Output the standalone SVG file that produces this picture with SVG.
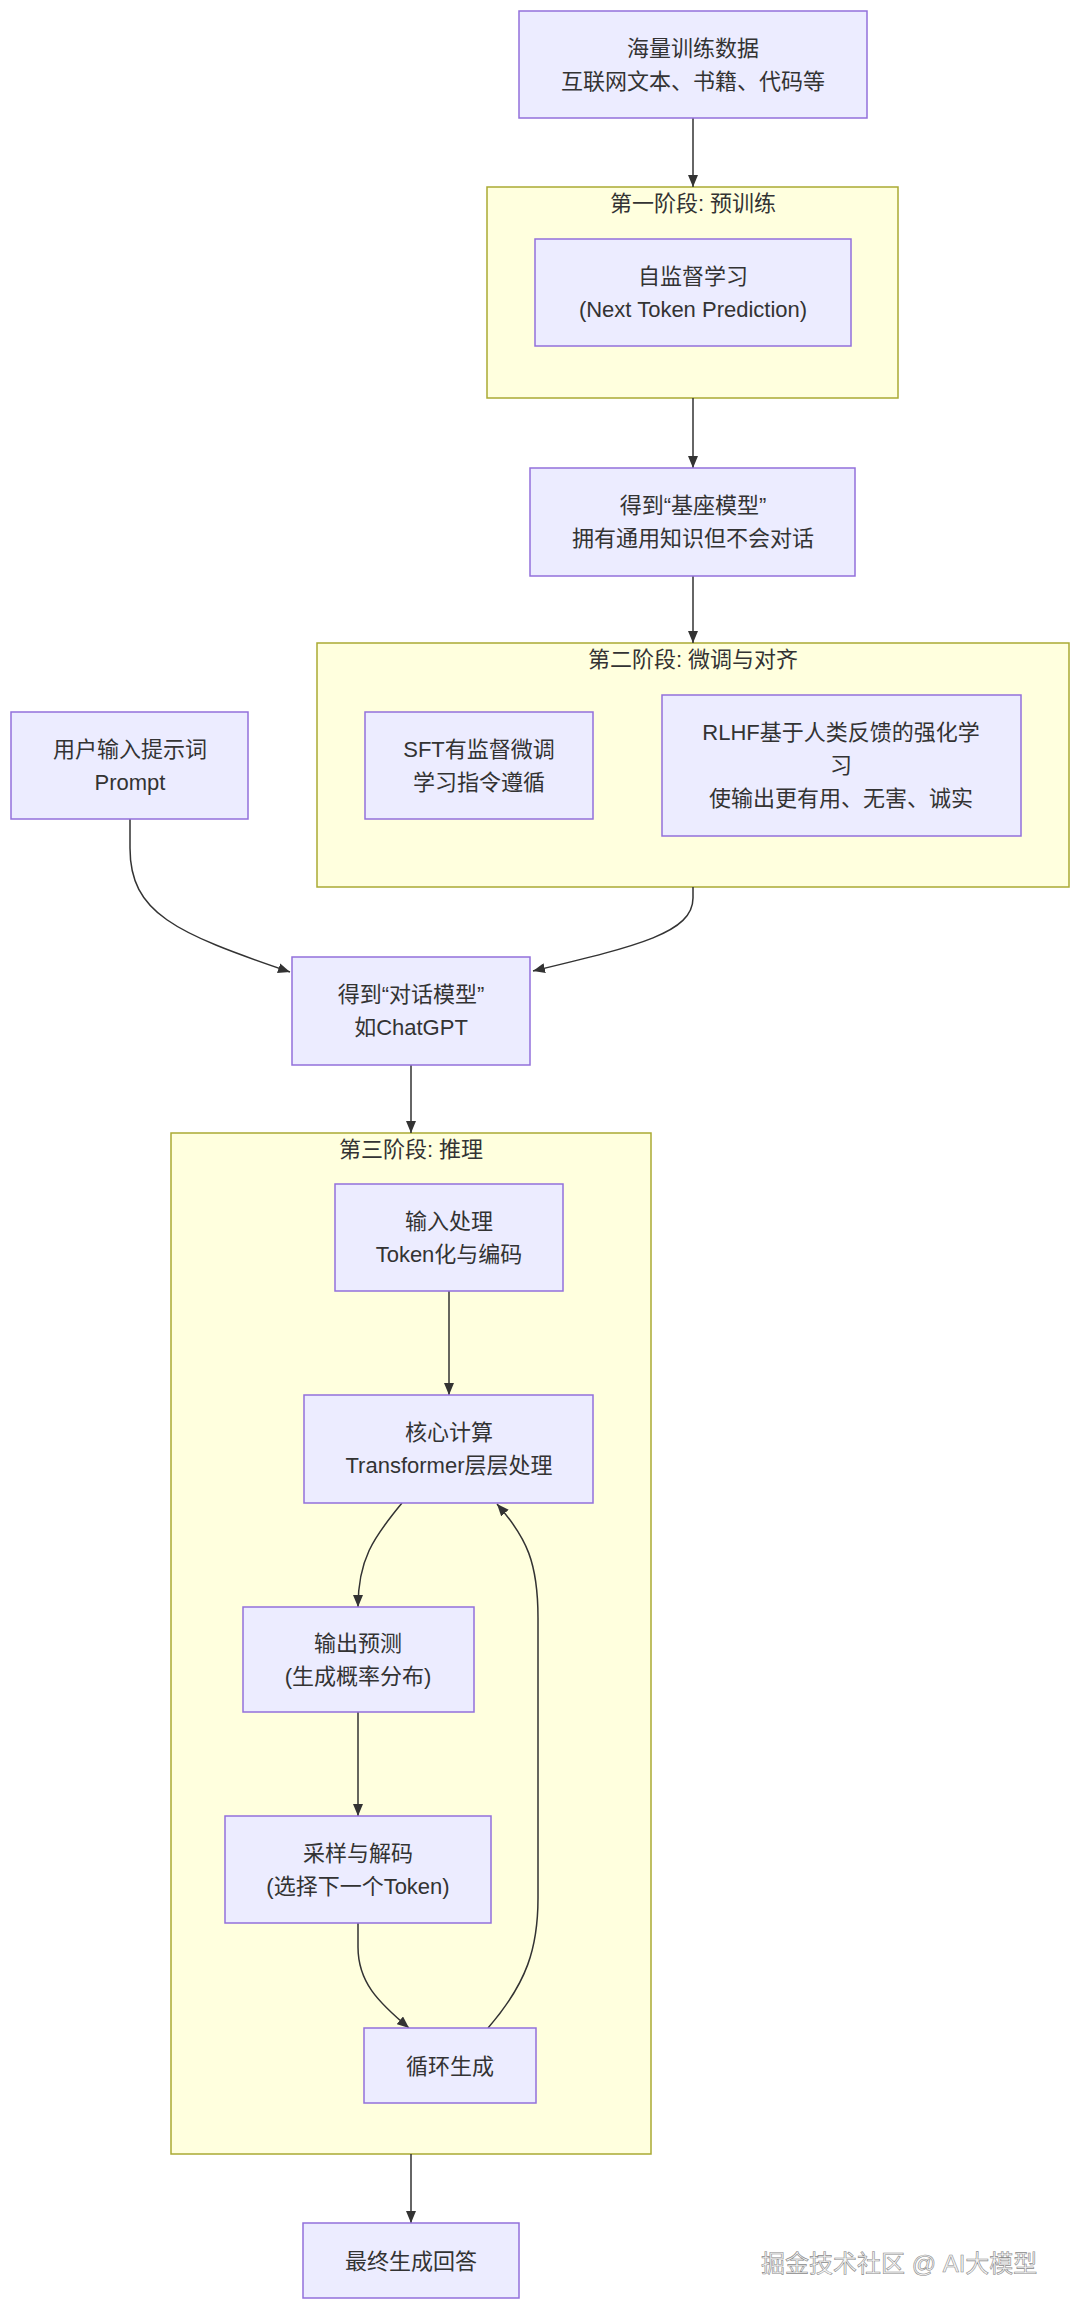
<svg xmlns="http://www.w3.org/2000/svg" width="1080" height="2309" viewBox="0 0 1080 2309">
<style>
.node rect{fill:#ECECFF;stroke:#9370DB;stroke-width:1.5}
.cluster rect{fill:#FFFFDE;stroke:#AAAA33;stroke-width:1.5}
text{font-family:"Liberation Sans","Noto Sans CJK SC",sans-serif;font-size:22px;fill:#333333;text-anchor:middle;dominant-baseline:central}
.edges path{fill:none;stroke:#333333;stroke-width:1.5}
.wm{font-size:24px;fill:#f6f6f6;stroke:#8a8a8a;stroke-width:0.6;text-anchor:start}
</style>
<defs>
<marker id="arrow" viewBox="0 0 12 10" refX="12" refY="5" markerWidth="12" markerHeight="10" markerUnits="userSpaceOnUse" orient="auto">
<path d="M0,0 L12,5 L0,10 z" fill="#333333"/>
</marker>
</defs>
<rect width="1080" height="2309" fill="#ffffff"/>

<g id="cluster-pretrain" class="cluster">
<rect x="487" y="187" width="411" height="211"/>
<text x="693" y="203">第一阶段: 预训练</text>
</g>
<g id="cluster-finetune" class="cluster">
<rect x="317" y="643" width="752" height="244"/>
<text x="693" y="659">第二阶段: 微调与对齐</text>
</g>
<g id="cluster-inference" class="cluster">
<rect x="171" y="1133" width="480" height="1021"/>
<text x="411" y="1149">第三阶段: 推理</text>
</g>

<g class="edges">
<path d="M693,118 L693,187" marker-end="url(#arrow)"/>
<path d="M693,398 L693,468" marker-end="url(#arrow)"/>
<path d="M693,576 L693,643" marker-end="url(#arrow)"/>
<path d="M130,819 L130,848 C130,913 175,933 290,972" marker-end="url(#arrow)"/>
<path d="M693,887 L693,898 C693,933 637,946 533,971" marker-end="url(#arrow)"/>
<path d="M411,1065 L411,1133" marker-end="url(#arrow)"/>
<path d="M449,1291 L449,1395" marker-end="url(#arrow)"/>
<path d="M402,1503 C373,1538 358,1560 358,1607" marker-end="url(#arrow)"/>
<path d="M358,1712 L358,1816" marker-end="url(#arrow)"/>
<path d="M358,1923 L358,1947 C358,1982 378,2002 409,2028" marker-end="url(#arrow)"/>
<path d="M488,2028 C527,1983 538,1948 538,1898 L538,1618 C538,1563 527,1538 497,1504" marker-end="url(#arrow)"/>
<path d="M411,2154 L411,2223" marker-end="url(#arrow)"/>
</g>

<g id="data" class="node">
<rect x="519" y="11" width="348" height="107"/>
<text x="693" y="48">海量训练数据</text>
<text x="693" y="81">互联网文本、书籍、代码等</text>
</g>
<g id="selfsup" class="node">
<rect x="535" y="239" width="316" height="107"/>
<text x="693" y="276">自监督学习</text>
<text x="693" y="309">(Next Token Prediction)</text>
</g>
<g id="base" class="node">
<rect x="530" y="468" width="325" height="108"/>
<text x="693" y="505">得到“基座模型”</text>
<text x="693" y="538">拥有通用知识但不会对话</text>
</g>
<g id="prompt" class="node">
<rect x="11" y="712" width="237" height="107"/>
<text x="130" y="749">用户输入提示词</text>
<text x="130" y="782">Prompt</text>
</g>
<g id="sft" class="node">
<rect x="365" y="712" width="228" height="107"/>
<text x="479" y="749">SFT有监督微调</text>
<text x="479" y="782">学习指令遵循</text>
</g>
<g id="rlhf" class="node">
<rect x="662" y="695" width="359" height="141"/>
<text x="841" y="732">RLHF基于人类反馈的强化学</text>
<text x="841" y="765">习</text>
<text x="841" y="798">使输出更有用、无害、诚实</text>
</g>
<g id="chat" class="node">
<rect x="292" y="957" width="238" height="108"/>
<text x="411" y="994">得到“对话模型”</text>
<text x="411" y="1027">如ChatGPT</text>
</g>
<g id="input" class="node">
<rect x="335" y="1184" width="228" height="107"/>
<text x="449" y="1221">输入处理</text>
<text x="449" y="1254">Token化与编码</text>
</g>
<g id="core" class="node">
<rect x="304" y="1395" width="289" height="108"/>
<text x="449" y="1432">核心计算</text>
<text x="449" y="1465">Transformer层层处理</text>
</g>
<g id="output" class="node">
<rect x="243" y="1607" width="231" height="105"/>
<text x="358" y="1643">输出预测</text>
<text x="358" y="1676">(生成概率分布)</text>
</g>
<g id="sample" class="node">
<rect x="225" y="1816" width="266" height="107"/>
<text x="358" y="1853">采样与解码</text>
<text x="358" y="1886">(选择下一个Token)</text>
</g>
<g id="loop" class="node">
<rect x="364" y="2028" width="172" height="75"/>
<text x="450" y="2066">循环生成</text>
</g>
<g id="final" class="node">
<rect x="303" y="2223" width="216" height="75"/>
<text x="411" y="2261">最终生成回答</text>
</g>

<text class="wm" x="761" y="2263">掘金技术社区 @ AI大模型</text>
</svg>
